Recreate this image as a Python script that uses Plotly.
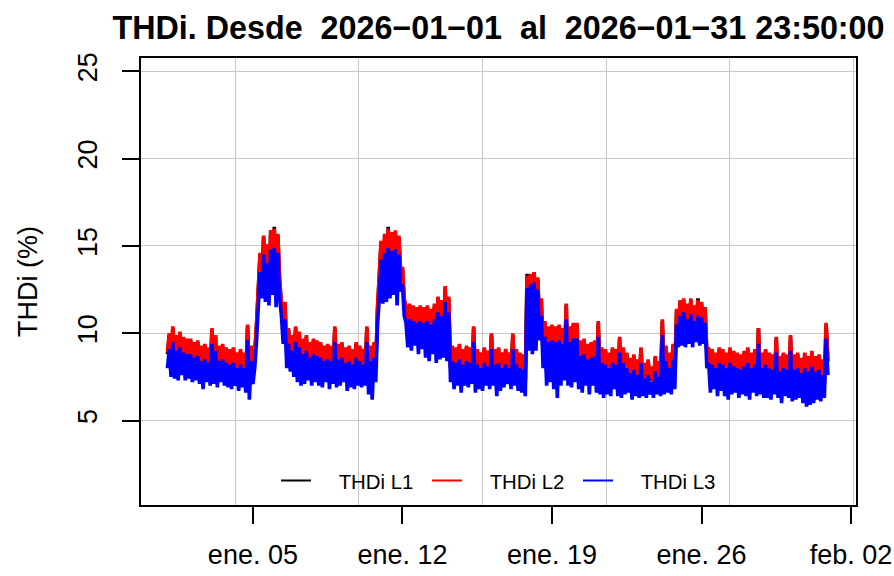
import pandas as pd
import plotly.graph_objects as go

# ---- data (2-hour samples) ----
start_time = "2026-01-01 00:00"
step = "2h"

thdi_l3 = [
    8.0, 9.1, 7.5, 9.5, 7.4, 9.0, 7.3, 9.2, 7.6, 8.9, 7.3, 8.8,
    7.4, 8.8, 7.2, 8.6, 7.3, 8.7, 7.1, 8.4, 6.8, 8.5, 7.2, 8.3,
    7.0, 9.4, 7.1, 9.0, 6.9, 8.4, 7.2, 8.5, 7.0, 8.3, 6.9, 8.2,
    6.8, 8.3, 7.0, 8.0, 6.7, 8.2, 6.9, 8.0, 6.6, 9.6, 6.2, 8.4,
    7.1, 8.0, 9.5, 11.5, 13.5, 12.0, 14.5, 11.8, 14.0, 11.6, 14.8, 12.2,
    14.9, 11.5, 14.6, 12.0, 11.0, 9.4, 10.8, 8.0, 9.4, 7.8, 9.0, 7.5,
    9.5, 7.2, 9.2, 7.0, 8.8, 7.1, 9.0, 7.3, 8.6, 7.0, 8.8, 7.2,
    8.7, 7.0, 8.6, 6.9, 8.4, 7.2, 8.5, 6.8, 8.4, 7.1, 9.5, 6.9,
    8.5, 7.0, 8.6, 7.2, 8.3, 6.7, 8.4, 6.9, 8.2, 6.8, 8.6, 7.0,
    8.4, 6.9, 8.2, 7.0, 9.5, 6.5, 8.4, 6.2, 8.6, 7.2, 10.5, 12.0,
    14.2, 11.7, 14.6, 11.8, 14.9, 12.0, 14.7, 12.2, 14.8, 11.6, 14.5, 12.4,
    12.8, 11.0, 10.6, 9.2, 10.8, 9.0, 10.7, 9.3, 10.6, 8.8, 10.7, 9.1,
    10.6, 8.6, 10.7, 8.4, 10.5, 8.8, 10.8, 8.3, 11.2, 8.5, 11.0, 8.6,
    11.8, 8.4, 11.2, 7.2, 8.4, 6.8, 8.3, 7.0, 8.5, 6.6, 8.2, 7.0,
    8.4, 6.9, 8.3, 7.1, 9.5, 6.6, 8.2, 6.8, 8.0, 6.7, 8.3, 7.0,
    8.1, 6.8, 9.1, 7.0, 8.2, 6.4, 8.3, 6.7, 8.0, 6.9, 8.2, 7.1,
    8.0, 6.8, 9.1, 7.0, 8.2, 6.7, 8.0, 6.6, 7.9, 6.4, 12.6, 9.0,
    12.8, 8.8, 12.9, 9.0, 12.5, 9.6, 11.0, 8.0, 9.8, 7.0, 9.5, 7.2,
    9.6, 6.8, 9.5, 6.3, 9.6, 7.0, 9.4, 7.3, 10.8, 7.0, 9.5, 6.9,
    9.7, 7.2, 9.7, 6.8, 8.7, 6.6, 8.8, 7.0, 8.5, 6.5, 8.6, 7.0,
    8.7, 6.6, 9.8, 6.5, 8.3, 6.3, 8.2, 6.5, 8.0, 6.4, 8.3, 6.8,
    8.2, 6.4, 8.9, 6.3, 8.3, 6.5, 8.0, 6.6, 7.7, 6.2, 7.9, 6.4,
    7.6, 6.3, 8.3, 6.4, 7.4, 6.3, 7.6, 6.5, 7.2, 6.3, 7.8, 6.5,
    7.5, 6.4, 9.9, 6.5, 8.4, 6.6, 8.0, 6.5, 8.5, 6.8, 10.5, 9.2,
    11.0, 9.3, 11.2, 9.2, 10.8, 9.4, 11.1, 9.2, 10.7, 9.5, 11.0, 9.3,
    10.9, 9.4, 10.6, 8.0, 8.3, 6.6, 8.2, 6.8, 8.0, 6.4, 8.3, 6.7,
    8.2, 6.4, 8.0, 6.2, 8.3, 6.5, 8.1, 6.6, 8.0, 6.3, 7.9, 6.5,
    8.1, 6.4, 8.3, 6.2, 8.0, 6.6, 8.2, 6.4, 9.4, 6.5, 8.0, 6.3,
    8.2, 6.3, 8.0, 6.2, 7.9, 6.5, 8.9, 6.3, 7.8, 6.0, 8.0, 6.4,
    7.9, 6.3, 9.0, 6.1, 7.9, 6.2, 8.0, 6.3, 7.7, 6.0, 8.0, 5.8,
    7.8, 5.9, 8.1, 6.0, 7.8, 6.2, 7.9, 6.1, 7.6, 6.3, 9.7, 7.6,
]

thdi_l2 = [
    8.9, 10.0, 8.4, 10.4, 8.3, 9.9, 8.2, 10.1, 8.5, 9.8, 8.2, 9.7,
    8.3, 9.7, 8.1, 9.5, 8.2, 9.6, 8.0, 9.3, 7.7, 9.4, 8.1, 9.2,
    7.9, 10.3, 8.0, 9.9, 7.8, 9.3, 8.1, 9.4, 7.9, 9.2, 7.8, 9.1,
    7.7, 9.2, 7.9, 8.9, 7.6, 9.1, 7.8, 8.9, 7.5, 10.5, 7.1, 9.3,
    8.0, 8.9, 10.5, 12.6, 14.6, 13.1, 15.6, 12.9, 15.1, 12.7, 15.9, 13.3,
    16.0, 12.6, 15.7, 13.1, 12.0, 10.4, 11.8, 8.9, 10.3, 8.7, 9.9, 8.4,
    10.4, 8.1, 10.1, 7.9, 9.7, 8.0, 9.9, 8.2, 9.5, 7.9, 9.7, 8.1,
    9.6, 7.9, 9.5, 7.8, 9.3, 8.1, 9.4, 7.7, 9.3, 8.0, 10.4, 7.8,
    9.4, 7.9, 9.5, 8.1, 9.2, 7.6, 9.3, 7.8, 9.1, 7.7, 9.5, 7.9,
    9.3, 7.8, 9.1, 7.9, 10.4, 7.4, 9.3, 7.1, 9.5, 8.1, 11.5, 13.1,
    15.3, 12.8, 15.7, 12.9, 16.0, 13.1, 15.8, 13.3, 15.9, 12.7, 15.6, 13.5,
    13.8, 12.0, 11.5, 10.1, 11.7, 9.9, 11.6, 10.2, 11.5, 9.7, 11.6, 10.0,
    11.5, 9.5, 11.6, 9.3, 11.4, 9.7, 11.7, 9.2, 12.1, 9.4, 11.9, 9.5,
    12.7, 9.3, 12.1, 8.1, 9.3, 7.7, 9.2, 7.9, 9.4, 7.5, 9.1, 7.9,
    9.3, 7.8, 9.2, 8.0, 10.4, 7.5, 9.1, 7.7, 8.9, 7.6, 9.2, 7.9,
    9.0, 7.7, 10.0, 7.9, 9.1, 7.3, 9.2, 7.6, 8.9, 7.8, 9.1, 8.0,
    8.9, 7.7, 10.0, 7.9, 9.1, 7.6, 8.9, 7.5, 8.8, 7.3, 13.3, 9.9,
    13.4, 9.6, 13.5, 9.9, 13.2, 10.5, 12.0, 8.9, 10.7, 7.9, 10.4, 8.1,
    10.5, 7.7, 10.4, 7.2, 10.5, 7.9, 10.3, 8.2, 11.7, 7.9, 10.4, 7.8,
    10.6, 8.1, 10.6, 7.7, 9.6, 7.5, 9.7, 7.9, 9.4, 7.4, 9.5, 7.9,
    9.6, 7.5, 10.7, 7.4, 9.2, 7.2, 9.1, 7.4, 8.9, 7.3, 9.2, 7.7,
    9.1, 7.3, 9.8, 7.2, 9.2, 7.4, 8.9, 7.5, 8.6, 7.1, 8.8, 7.3,
    8.5, 7.2, 9.2, 7.3, 8.3, 7.2, 8.5, 7.4, 8.1, 7.2, 8.7, 7.4,
    8.4, 7.3, 10.8, 7.4, 9.3, 7.5, 8.9, 7.4, 9.4, 7.7, 11.4, 10.1,
    11.9, 10.2, 12.0, 10.1, 11.7, 10.3, 12.0, 10.1, 11.6, 10.4, 11.9, 10.2,
    11.8, 10.3, 11.5, 8.9, 9.2, 7.5, 9.1, 7.7, 8.9, 7.3, 9.2, 7.6,
    9.1, 7.3, 8.9, 7.1, 9.2, 7.4, 9.0, 7.5, 8.9, 7.2, 8.8, 7.4,
    9.0, 7.3, 9.2, 7.1, 8.9, 7.5, 9.1, 7.3, 10.3, 7.4, 8.9, 7.2,
    9.1, 7.2, 8.9, 7.1, 8.8, 7.4, 9.8, 7.2, 8.7, 6.9, 8.9, 7.3,
    8.8, 7.2, 9.9, 7.0, 8.8, 7.1, 8.9, 7.2, 8.6, 6.9, 8.9, 6.7,
    8.7, 6.8, 9.0, 6.9, 8.7, 7.1, 8.8, 7.0, 8.5, 7.2, 10.6, 8.5,
]

thdi_l1 = [
    8.8, 9.9, 8.3, 10.3, 8.2, 9.8, 8.1, 10.0, 8.4, 9.7, 8.1, 9.6,
    8.2, 9.6, 8.0, 9.4, 8.1, 9.5, 7.9, 9.2, 7.6, 9.3, 8.0, 9.1,
    7.8, 10.2, 7.9, 9.8, 7.7, 9.2, 8.0, 9.3, 7.8, 9.1, 7.7, 9.0,
    7.6, 9.1, 7.8, 8.8, 7.5, 9.0, 7.7, 8.8, 7.4, 10.4, 7.0, 9.2,
    7.9, 8.8, 10.4, 12.5, 14.5, 13.0, 15.5, 12.8, 15.0, 12.6, 15.9, 13.2,
    16.1, 12.5, 15.6, 13.0, 11.9, 10.3, 11.7, 8.8, 10.2, 8.6, 9.8, 8.3,
    10.3, 8.0, 10.0, 7.8, 9.6, 7.9, 9.8, 8.1, 9.4, 7.8, 9.6, 8.0,
    9.5, 7.8, 9.4, 7.7, 9.2, 8.0, 9.3, 7.6, 9.2, 7.9, 10.3, 7.7,
    9.3, 7.8, 9.4, 8.0, 9.1, 7.5, 9.2, 7.7, 9.0, 7.6, 9.4, 7.8,
    9.2, 7.7, 9.0, 7.8, 10.3, 7.3, 9.2, 7.0, 9.4, 8.0, 11.4, 13.0,
    15.2, 12.7, 15.6, 12.8, 16.1, 13.0, 15.7, 13.2, 15.8, 12.6, 15.5, 13.4,
    13.7, 11.9, 11.4, 10.0, 11.6, 9.8, 11.5, 10.1, 11.4, 9.6, 11.5, 9.9,
    11.4, 9.4, 11.5, 9.2, 11.3, 9.6, 11.6, 9.1, 12.0, 9.3, 11.8, 9.4,
    12.6, 9.2, 12.0, 8.0, 9.2, 7.6, 9.1, 7.8, 9.3, 7.4, 9.0, 7.8,
    9.2, 7.7, 9.1, 7.9, 10.3, 7.4, 9.0, 7.6, 8.8, 7.5, 9.1, 7.8,
    8.9, 7.6, 9.9, 7.8, 9.0, 7.2, 9.1, 7.5, 8.8, 7.7, 9.0, 7.9,
    8.8, 7.6, 9.9, 7.8, 9.0, 7.5, 8.8, 7.4, 8.7, 7.2, 13.4, 9.8,
    13.3, 9.5, 13.5, 9.8, 13.1, 10.4, 11.9, 8.8, 10.6, 7.8, 10.3, 8.0,
    10.4, 7.6, 10.3, 7.1, 10.4, 7.8, 10.2, 8.1, 11.6, 7.8, 10.3, 7.7,
    10.5, 8.0, 10.5, 7.6, 9.5, 7.4, 9.6, 7.8, 9.3, 7.3, 9.4, 7.8,
    9.5, 7.4, 10.6, 7.3, 9.1, 7.1, 9.0, 7.3, 8.8, 7.2, 9.1, 7.6,
    9.0, 7.2, 9.7, 7.1, 9.1, 7.3, 8.8, 7.4, 8.5, 7.0, 8.7, 7.2,
    8.4, 7.1, 9.1, 7.2, 8.2, 7.1, 8.4, 7.3, 8.0, 7.1, 8.6, 7.3,
    8.3, 7.2, 10.7, 7.3, 9.2, 7.4, 8.8, 7.3, 9.3, 7.6, 11.3, 10.0,
    11.8, 10.1, 11.9, 10.0, 11.6, 10.2, 11.9, 10.0, 11.5, 10.3, 12.0, 10.1,
    11.7, 10.2, 11.4, 8.8, 9.1, 7.4, 9.0, 7.6, 8.8, 7.2, 9.1, 7.5,
    9.0, 7.2, 8.8, 7.0, 9.1, 7.3, 8.9, 7.4, 8.8, 7.1, 8.7, 7.3,
    8.9, 7.2, 9.1, 7.0, 8.8, 7.4, 9.0, 7.2, 10.3, 7.3, 8.8, 7.1,
    9.0, 7.1, 8.8, 7.0, 8.7, 7.3, 9.7, 7.1, 8.6, 6.8, 8.8, 7.2,
    8.7, 7.1, 9.8, 6.9, 8.7, 7.0, 8.8, 7.1, 8.5, 6.8, 8.8, 6.6,
    8.6, 6.7, 8.9, 6.8, 8.6, 7.0, 8.7, 6.9, 8.4, 7.1, 10.5, 8.4,
]

series_names = ["THDi L1", "THDi L2", "THDi L3"]
series_colors = ["#000000", "#FF0000", "#0000FF"]

tick_dates = ["2026-01-05", "2026-01-12", "2026-01-19", "2026-01-26", "2026-02-02"]
tick_labels = ["ene. 05", "ene. 12", "ene. 19", "ene. 26", "feb. 02"]
y_ticks = [5, 10, 15, 20, 25]

title_text = "THDi. Desde\u00a0\u00a02026\u221201\u221201\u00a0\u00a0al\u00a0\u00a02026\u221201\u221231 23:50:00"
y_title = "THDi (%)"

# ---- figure ----
times = pd.date_range(start_time, periods=len(thdi_l3), freq=step)
data_start = pd.Timestamp("2026-01-01 00:00")
data_end = pd.Timestamp("2026-01-31 23:50")
pad = (data_end - data_start) * 0.04
x_range = [data_start - pad, data_end + pad]

FONT = "Liberation Sans, Arial, Helvetica, sans-serif"
W, H = 894, 576

fig = go.Figure()
for name, vals, col in zip(series_names, [thdi_l1, thdi_l2, thdi_l3], series_colors):
    fig.add_trace(go.Scatter(x=times[:len(vals)], y=vals, mode="lines", name=name,
                             showlegend=False, line=dict(color=col, width=3.6),
                             xaxis="x", yaxis="y"))
# legend entries with thin line samples
for name, col in zip(series_names, series_colors):
    fig.add_trace(go.Scatter(x=[None], y=[None], mode="lines",
                             name="\u00a0\u00a0\u00a0\u00a0" + name,
                             line=dict(color=col, width=2), xaxis="x", yaxis="y"))
# empty trace so the grid axis is created
fig.add_trace(go.Scatter(x=[], y=[], xaxis="x2", yaxis="y", showlegend=False, hoverinfo="skip"))

fig.update_layout(
    width=W, height=H,
    margin=dict(l=141, r=38, t=58, b=71, autoexpand=False),
    paper_bgcolor="white", plot_bgcolor="white",
    font=dict(family=FONT, color="black", size=27),
    title=dict(text="<b>" + title_text + "</b>", x=498.5 / W, xanchor="center",
               y=1 - 28 / H, yanchor="middle", yref="container",
               font=dict(size=32.3, family=FONT, color="black")),
    xaxis=dict(type="date", range=x_range, tickvals=tick_dates, ticktext=tick_labels,
               ticks="outside", ticklen=17, tickwidth=1.7, tickcolor="black",
               showgrid=False, zeroline=False, showline=True, mirror=True,
               linecolor="black", linewidth=1.7, tickfont=dict(size=27),
               ticklabelstandoff=8, automargin=False),
    xaxis2=dict(type="date", range=x_range, overlaying="x", anchor="y",
                tick0="1970-01-01", dtick=5e8, showticklabels=False, ticks="",
                showgrid=True, gridcolor="#c8c8c8", gridwidth=1, zeroline=False,
                showline=False, automargin=False),
    yaxis=dict(range=[0.17, 25.76], tickvals=y_ticks, ticks="outside", ticklen=17,
               tickwidth=1.7, tickcolor="black", tickangle=-90,
               showgrid=True, gridcolor="#c8c8c8", gridwidth=1, zeroline=False,
               showline=True, mirror=True, linecolor="black", linewidth=1.7,
               tickfont=dict(size=27), ticklabelstandoff=14, automargin=False,
               title=dict(text=y_title, font=dict(size=27), standoff=28)),
    legend=dict(orientation="h", x=0.5056, xanchor="center", y=0.054, yanchor="middle",
                bgcolor="rgba(0,0,0,0)", font=dict(size=20.4, family=FONT),
                entrywidth=106, traceorder="normal"),
    showlegend=True,
)

# remove the default page margin so the 894x576 figure fills the window exactly
fig.write_html("out.html", config={"displayModeBar": False},
               post_script="document.body.style.margin='0px';document.body.style.overflow='hidden';")
